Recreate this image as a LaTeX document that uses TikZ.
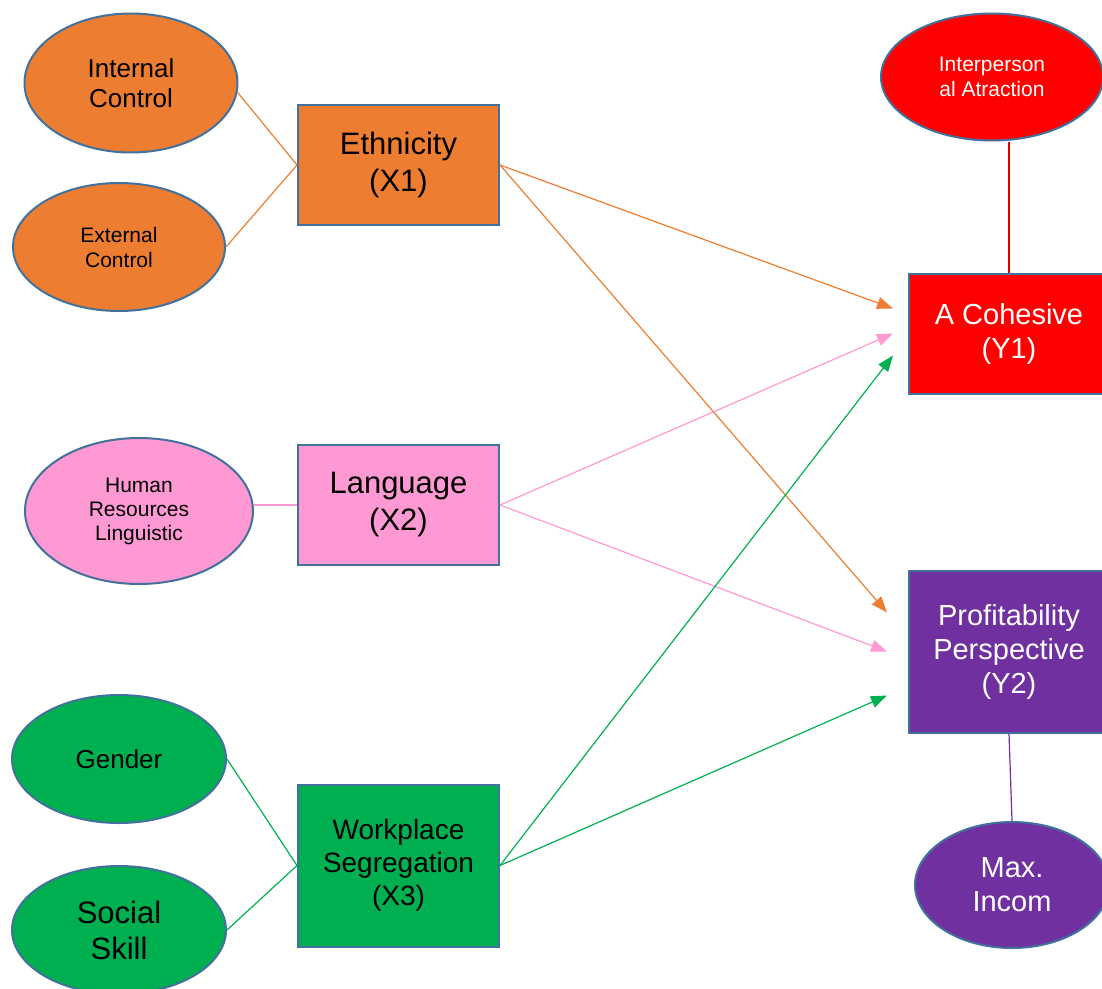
\documentclass[tikz,border=0pt]{standalone}
\usepackage{fontspec}
\setmainfont{Liberation Sans}
\usetikzlibrary{arrows.meta,positioning,shapes.geometric}
\definecolor{orng}{HTML}{ED7D31}
\definecolor{pnk}{HTML}{FF99D3}
\definecolor{grn}{HTML}{00B050}
\definecolor{prpl}{HTML}{7030A0}
\definecolor{rim}{HTML}{41719C}

\begin{document}
\begin{tikzpicture}[
  x=1pt,y=-1pt,
  box/.style={draw=rim,line width=2pt,minimum width=201pt,minimum height=120pt,align=center,inner sep=2pt},
  oval/.style={ellipse,draw=rim,line width=2pt,inner sep=0pt,align=center},
  link/.style={line width=1.2pt},
  arr/.style={link,-{Triangle[length=16pt,width=12pt]}}
]
\useasboundingbox (0,0) rectangle (1102,988);

% independent variables
\node[box,fill=orng,font=\fontsize{31}{37}\selectfont] (eth) at (398.5,165) {Ethnicity\\(X1)};
\node[box,fill=pnk,font=\fontsize{31}{37}\selectfont] (lang) at (398.5,505) {Language\\(X2)};
\node[box,fill=grn,minimum height=162pt,font=\fontsize{28}{33}\selectfont] (wp) at (398.5,865.5)
  {Workplace\\Segregation\\(X3)};

% indicators
\node[oval,fill=orng,minimum width=213pt,minimum height=139pt,font=\fontsize{26}{30}\selectfont] (ic) at (131,83) {Internal\\Control};
\node[oval,fill=orng,minimum width=212pt,minimum height=128pt,font=\fontsize{21}{25}\selectfont] (ec) at (119,247) {External\\Control};
\node[oval,fill=pnk,minimum width=228pt,minimum height=146pt,font=\fontsize{21}{24}\selectfont] (hr) at (139,511) {Human\\Resources\\Linguistic};
\node[oval,fill=grn,minimum width=214pt,minimum height=128pt,font=\fontsize{26}{30}\selectfont] (gen) at (119,759) {Gender};
\node[oval,fill=grn,minimum width=214pt,minimum height=128pt,font=\fontsize{31}{36}\selectfont] (ss) at (119,930) {Social\\Skill};

% dependent variables
\node[box,fill=red,text=white,minimum width=200pt,font=\fontsize{29}{34}\selectfont] (coh) at (1009,333.5) {A Cohesive\\(Y1)};
\node[box,fill=prpl,text=white,minimum width=200pt,minimum height=162pt,font=\fontsize{29}{34}\selectfont] (pp) at (1009,651.5)
  {Profitability\\Perspective\\(Y2)};
\node[oval,fill=red,text=white,minimum width=222pt,minimum height=127pt,font=\fontsize{21}{25}\selectfont] (ia) at (992,77) {Interperson\\al Atraction};
\node[oval,fill=prpl,text=white,minimum width=194pt,minimum height=126pt,font=\fontsize{29}{34}\selectfont] (mi) at (1012,885) {Max.\\Incom};

% indicator links
\draw[link,orng] (ic.-5) -- (eth.west);
\draw[link,orng] (ec.east) -- (eth.west);
\draw[link,pnk] (lang.west -| hr.east) -- (lang.west);
\draw[link,grn] (gen.east) -- (wp.west);
\draw[link,grn] (ss.east) -- (wp.west);
\draw[link,red!90!black] (coh.north) -- (coh.north |- ia.south);
\draw[link,prpl] (pp.south) -- (mi.north);

% paths
\draw[arr,orng] (eth.east) -- ([xshift=-15pt,yshift=25pt]coh.west);
\draw[arr,orng] (eth.east) -- ([xshift=-21pt,yshift=39pt]pp.west);
\draw[arr,pnk] (lang.east) -- ([xshift=-15pt]coh.west);
\draw[arr,pnk] (lang.east) -- ([xshift=-21pt]pp.west);
\draw[arr,grn] (wp.east) -- ([xshift=-15pt,yshift=-22pt]coh.west);
\draw[arr,grn] (wp.east) -- ([xshift=-21pt,yshift=-44pt]pp.west);
\end{tikzpicture}
\end{document}
